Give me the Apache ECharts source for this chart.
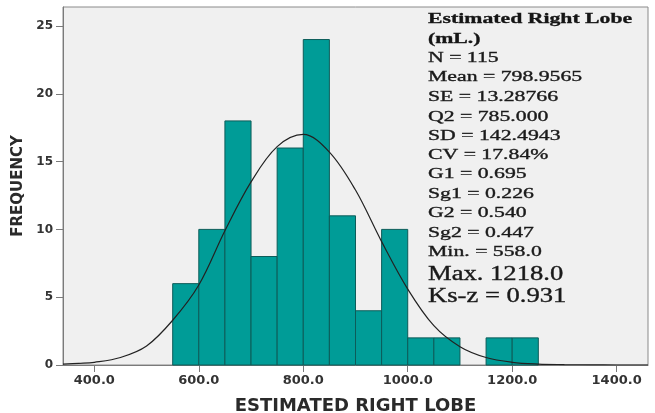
<!DOCTYPE html>
<html>
<head>
<meta charset="utf-8">
<script src="https://cdn.jsdelivr.net/npm/echarts@6/dist/echarts.min.js"></script>
<style>
html,body{margin:0;padding:0;background:#fff;}
#chart{width:655px;height:413px;}
</style>
</head>
<body>
<div id="chart"></div>
<script>
// ---- data ----
const binStart = [550, 600, 650, 700, 750, 800, 850, 900, 950, 1000, 1050, 1100, 1150, 1200];
const binEnd   = [600, 650, 700, 750, 800, 850, 900, 950, 1000, 1050, 1100, 1150, 1200, 1250];
const counts   = [6, 10, 18, 8, 16, 24, 11, 4, 10, 2, 2, 0, 2, 2];

const curveX = [340, 370, 400, 450, 500, 550, 600, 650, 700, 750, 800, 850, 900, 950, 1000, 1050, 1100, 1150, 1200, 1250, 1300, 1350, 1400, 1460];
const curveY = [0.06, 0.12, 0.2, 0.55, 1.4, 3.3, 5.9, 9.9, 13.5, 16.1, 17.0, 15.7, 12.9, 9.1, 5.6, 2.9, 1.35, 0.55, 0.2, 0.07, 0.03, 0.01, 0.0, 0.0];

const xTicks = [400, 600, 800, 1000, 1200, 1400];
const xTickLabels = ['400.0', '600.0', '800.0', '1000.0', '1200.0', '1400.0'];
const yTicks = [0, 5, 10, 15, 20, 25];
const yTickLabels = ['0', '5', '10', '15', '20', '25'];

const titleLines = ['Estimated Right Lobe', '(mL.)'];
const statLines = ['N = 115', 'Mean = 798.9565', 'SE = 13.28766', 'Q2 = 785.000', 'SD = 142.4943',
  'CV = 17.84%', 'G1 = 0.695', 'Sg1 = 0.226', 'G2 = 0.540', 'Sg2 = 0.447', 'Min. = 558.0'];
const bigLines = ['Max. 1218.0', 'Ks-z = 0.931'];

const xName = 'ESTIMATED RIGHT LOBE';
const yName = 'FREQUENCY';

// ---- chart ----
const chart = echarts.init(document.getElementById('chart'), null, {renderer: 'canvas'});

const histData = binStart.map((s, i) => [s, binEnd[i], counts[i]]);
const curveData = curveX.map((x, i) => [x, curveY[i]]);

const textX = 428;
const graphics = [];
const titleY = [19, 39];
titleLines.forEach((t, i) => graphics.push({
  type: 'text', x: textX, y: titleY[i], scaleX: 1.45, originX: 0, z: 100,
  style: {text: t, font: 'bold 15px "Liberation Serif"', fill: '#151515', stroke: '#151515', lineWidth: 0.3, verticalAlign: 'middle', align: 'left'}
}));
const statY = [58, 77, 97, 117, 136, 155, 174, 194, 213, 233, 252];
statLines.forEach((t, i) => graphics.push({
  type: 'text', x: textX, y: statY[i], scaleX: 1.45, originX: 0, z: 100,
  style: {text: t, font: '15px "Liberation Serif"', fill: '#1a1a1a', stroke: '#1a1a1a', lineWidth: 0.35, verticalAlign: 'middle', align: 'left'}
}));
const bigY = [275, 297];
bigLines.forEach((t, i) => graphics.push({
  type: 'text', x: textX, y: bigY[i], scaleX: 1.33, originX: 0, z: 100,
  style: {text: t, font: '20px "Liberation Serif"', fill: '#1a1a1a', stroke: '#1a1a1a', lineWidth: 0.35, verticalAlign: 'middle', align: 'left'}
}));

const option = {
  backgroundColor: '#ffffff',
  animation: false,
  grid: {
    left: 63, top: 7, right: 7, bottom: 48,
    show: true, backgroundColor: '#f0f0f0', borderColor: '#8a8a8a', borderWidth: 1,
    containLabel: false, outerBoundsMode: 'none'
  },
  xAxis: {
    type: 'value', min: 340, max: 1460,
    name: xName, nameLocation: 'middle', nameGap: 32,
    nameTextStyle: {fontFamily: 'DejaVu Sans', fontWeight: 'bold', fontSize: 18, color: '#2a2a2a'},
    axisLine: {show: true, onZero: false, lineStyle: {color: '#7a7a7a', width: 1}},
    axisTick: {show: true, length: 7, customValues: xTicks, lineStyle: {color: '#7a7a7a'}},
    axisLabel: {
      customValues: xTicks, margin: 9,
      formatter: v => xTickLabels[xTicks.indexOf(v)],
      fontFamily: 'DejaVu Sans', fontWeight: 'bold', fontSize: 13, color: '#333'
    },
    splitLine: {show: false}
  },
  yAxis: {
    type: 'value', min: 0, max: 26.4,
    name: yName, nameLocation: 'middle', nameGap: 30, nameRotate: 90,
    nameTextStyle: {fontFamily: 'DejaVu Sans', fontWeight: 'bold', fontSize: 15, color: '#2a2a2a'},
    axisLine: {show: true, lineStyle: {color: '#7a7a7a', width: 1}},
    axisTick: {show: true, length: 7, customValues: yTicks, lineStyle: {color: '#7a7a7a'}},
    axisLabel: {
      customValues: yTicks, margin: 10,
      formatter: v => yTickLabels[yTicks.indexOf(v)],
      fontFamily: 'DejaVu Sans', fontWeight: 'bold', fontSize: 12, color: '#333'
    },
    splitLine: {show: false}
  },
  graphic: graphics,
  series: [
    {
      type: 'custom',
      data: histData,
      encode: {x: [0, 1], y: 2},
      z: 2,
      renderItem: function (params, api) {
        const x0 = api.value(0), x1 = api.value(1), h = api.value(2);
        if (!h) return null;
        const p0 = api.coord([x0, h]);
        const p1 = api.coord([x1, 0]);
        return {
          type: 'rect',
          shape: {x: p0[0], y: p0[1], width: p1[0] - p0[0], height: p1[1] - p0[1]},
          style: {fill: '#009c97', stroke: '#0c5c59', lineWidth: 1}
        };
      }
    },
    {
      type: 'line',
      data: curveData,
      smooth: 0.35,
      showSymbol: false,
      symbol: 'none',
      z: 5,
      lineStyle: {color: '#222', width: 1.2}
    }
  ]
};
chart.setOption(option);
</script>
</body>
</html>
